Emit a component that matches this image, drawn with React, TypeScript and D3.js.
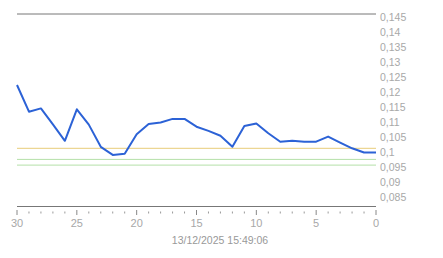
import React from "react";
import * as d3 from "d3";

const days = [30,29,28,27,26,25,24,23,22,21,20,19,18,17,16,15,14,13,12,11,10,9,8,7,6,5,4,3,2,1,0];
const values = [0.1225,0.1136,0.1147,0.1094,0.1039,0.1144,0.1093,0.1019,0.0992,0.0996,0.1061,0.1095,0.1100,0.1112,0.1112,0.1086,0.1072,0.1056,0.1019,0.1088,0.1097,0.1064,0.1036,0.1039,0.1036,0.1036,0.1053,0.1033,0.1014,0.1000,0.1000];
const yTicks = [0.145,0.14,0.135,0.13,0.125,0.12,0.115,0.11,0.105,0.1,0.095,0.09,0.085];
const xMajor = [30,25,20,15,10,5,0];
const refYellow = 0.1014;
const refGreen = [0.0977, 0.0958];
const dateLabel = "13/12/2025 15:49:06";

export default function App() {
  const W = 443, H = 258;
  const x = d3.scaleLinear().domain([30, 0]).range([17, 376]);
  const y = d3.scaleLinear().domain([0.145, 0.085]).range([17.5, 197.5]);
  const yTop = 14, yBot = 206.5;
  const line = d3.line<number>().x((_, i) => x(days[i])).y(d => y(d));
  const fmt = (v: number) => String(+v.toFixed(3)).replace(".", ",");
  const minor = d3.range(0, 31).filter(d => d % 5 !== 0);
  const font = "Arial, 'Liberation Sans', sans-serif";
  return (
    <svg width={W} height={H} style={{ position: "absolute", left: 0, top: 0, background: "#fff" }}>
      <line x1={17} x2={376} y1={yTop} y2={yTop} stroke="#777" strokeWidth={1} />
      <line x1={17} x2={376} y1={yBot} y2={yBot} stroke="#777" strokeWidth={1} />
      <line x1={17} x2={376} y1={y(refYellow)} y2={y(refYellow)} stroke="#e8cc78" strokeWidth={1} />
      {refGreen.map((g, i) => (
        <line key={i} x1={17} x2={376} y1={y(g)} y2={y(g)} stroke="#b4e0a8" strokeWidth={1} />
      ))}
      {yTicks.map(t => (
        <text key={t} x={380} y={y(t)} dy="0.35em" fontSize={10.5} fill="#a8a8a8" fontFamily={font}>{fmt(t)}</text>
      ))}
      {xMajor.map(t => (
        <g key={t}>
          <line x1={x(t)} x2={x(t)} y1={210} y2={215} stroke="#888" strokeWidth={1} />
          <text x={x(t)} y={223.5} dy="0.35em" textAnchor="middle" fontSize={11} fill="#a8a8a8" fontFamily={font}>{t}</text>
        </g>
      ))}
      {minor.map(t => (
        <line key={t} x1={x(t)} x2={x(t)} y1={211.5} y2={213.5} stroke="#999" strokeWidth={1} />
      ))}
      <text x={220} y={240.5} dy="0.35em" textAnchor="middle" fontSize={10.5} fill="#999" fontFamily={font}>{dateLabel}</text>
      <path d={line(values) || ""} fill="none" stroke="#2c62d6" strokeWidth={2} strokeLinejoin="round" />
    </svg>
  );
}
